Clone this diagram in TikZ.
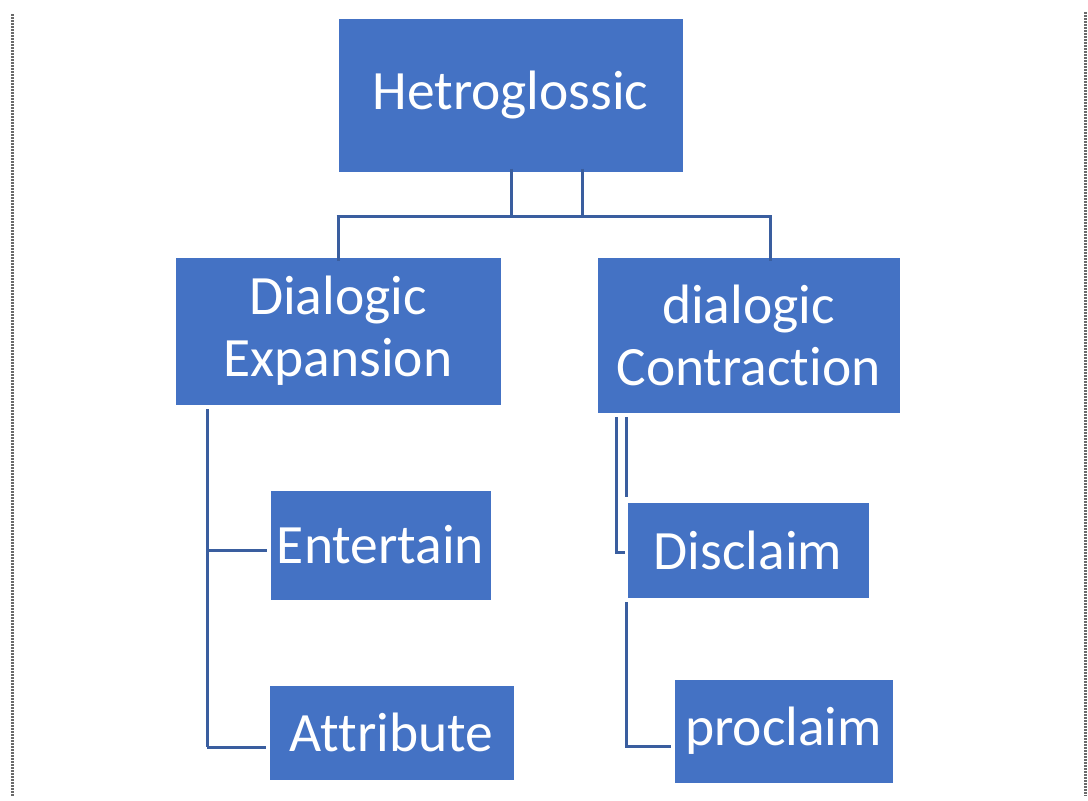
\documentclass[tikz,border=0pt]{standalone}
\usepackage{fontspec}
\setmainfont{Carlito}[Ligatures={NoCommon,NoRare,NoContextual}]
\definecolor{boxblue}{HTML}{4472C4}
\definecolor{linkblue}{HTML}{3A5E9F}
\definecolor{edgegray}{HTML}{6A6A6A}
\tikzset{
  box/.style={fill=boxblue, draw=white, line width=1pt, text=white, inner sep=0pt,
    align=center, font=\fontsize{55.5}{62}\selectfont},
  link/.style={draw=linkblue, line width=3pt},
  hatch/.style={draw=edgegray, line width=3pt, dash pattern=on 1.5pt off 1.5pt}
}
\begin{document}
\begin{tikzpicture}[x=1pt,y=-1pt]
\useasboundingbox (0,0) rectangle (1088,801);
\fill[white] (0,0) rectangle (1088,801);

% page edges
\coordinate (lt) at (12,14);
\coordinate (lb) at (12,796);
\coordinate (rt) at (1085,12);
\coordinate (rb) at (1085,796);
\draw[hatch] (lt) -- (lb);
\draw[hatch] (rt) -- (rb);

% boxes
\node[box, minimum width=345, minimum height=154] (het) at (510.5,95) {Hetroglossic};
\node[box, minimum width=326, minimum height=148] (exp) at (338,331) {Dialogic\\Expansion};
\node[box, minimum width=303, minimum height=156] (con) at (748.5,335) {dialogic\\Contraction};
\node[box, minimum width=221, minimum height=110] (ent) at (380.5,545) {Entertain};
\node[box, minimum width=245, minimum height=95] (att) at (391.5,732.5) {Attribute};
\node[box, minimum width=242, minimum height=96] (dis) at (748,550) {Disclaim};
\node[box, minimum width=219, minimum height=104] (pro) at (783.5,731) {proclaim};

% top level branches
\coordinate (busL) at (338,216);
\coordinate (busR) at (770,216);
\draw[link] ([yshift=4pt]het.south -| 511,0) -- (511,216);
\draw[link] ([yshift=4pt]het.south -| 582,0) -- (582,216);
\draw[link] ([xshift=-1.5pt]busL) -- ([xshift=1.5pt]busR);
\draw[link] (busL) -- ([yshift=-4pt]busL |- exp.north);
\draw[link] (busR) -- ([yshift=-4pt]busR |- con.north);

% expansion branches
\coordinate (ex) at (207,409);
\draw[link] (ex) -- (207,747);
\draw[link] (207,550) -- ([xshift=-3pt]ent.west |- 0,550);
\draw[link] (207,747) -- ([xshift=-3pt]att.west |- 0,747);

% contraction branches
\draw[link] (616,417) -- (616,552) -- ([xshift=-2pt]dis.west |- 0,552);
\draw[link] (626,417) -- (626,497);
\draw[link] (626,602) -- (626,746) -- ([xshift=-3pt]pro.west |- 0,746);
\end{tikzpicture}
\end{document}
